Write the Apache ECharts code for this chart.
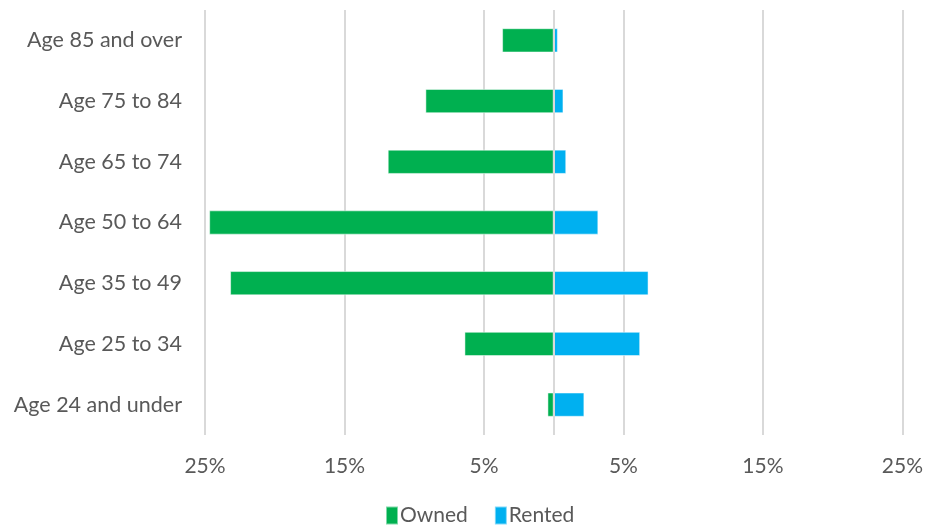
<!DOCTYPE html>
<html>
<head>
<meta charset="utf-8">
<script src="https://cdn.jsdelivr.net/npm/echarts@6/dist/echarts.min.js"></script>
<style>
  html, body { margin: 0; padding: 0; background: #fff; }
  #chart { width: 926px; height: 531px; }
</style>
</head>
<body>
<div id="chart"></div>
<script>
// Age groups, top row first
const ageGroups = [
  'Age 85 and over',
  'Age 75 to 84',
  'Age 65 to 74',
  'Age 50 to 64',
  'Age 35 to 49',
  'Age 25 to 34',
  'Age 24 and under'
];
// Share of households (%), owned drawn to the left of zero
const ownedShare = [3.7, 9.2, 11.9, 24.7, 23.2, 6.4, 0.45];
const rentedShare = [0.3, 0.7, 0.9, 3.2, 6.8, 6.2, 2.2];
// Labelled ticks on the value axis
const tickValues = [-25, -15, -5, 5, 15, 25];

const grey = '#d9d9d9';
const textColor = '#595959';
const font = 'Lato, "Open Sans", sans-serif';

// one colour per split line at -25, -20, ..., 25; only the labelled ticks are shown
const splitColors = [];
for (let v = -25; v <= 25; v += 5) {
  splitColors.push(tickValues.includes(v) ? grey : 'rgba(0,0,0,0)');
}

const chart = echarts.init(document.getElementById('chart'), null, { renderer: 'canvas' });
chart.setOption({
  animation: false,
  backgroundColor: '#ffffff',
  grid: { left: 205, right: 21, top: 10, bottom: 96, containLabel: false },
  legend: {
    bottom: 0,
    left: 380,
    itemWidth: 12,
    itemHeight: 18,
    itemGap: 26,
    icon: 'rect',
    textStyle: { color: textColor, fontSize: 21, fontFamily: font, padding: [0, 0, 0, -3] },
    data: ['Owned', 'Rented']
  },
  xAxis: {
    type: 'value',
    min: -25,
    max: 25,
    interval: 5,
    axisLine: { show: false },
    axisTick: { show: false },
    splitLine: { show: true, lineStyle: { color: splitColors, width: 2 } },
    axisLabel: {
      color: textColor,
      fontSize: 21,
      fontFamily: font,
      margin: 21,
      formatter: function (v) {
        return tickValues.includes(v) ? Math.abs(v) + '%' : '';
      }
    }
  },
  yAxis: {
    type: 'category',
    data: ageGroups,
    inverse: true,
    axisLine: { show: false },
    axisTick: { show: false },
    splitLine: { show: false },
    axisLabel: { color: textColor, fontSize: 21.5, fontFamily: font, margin: 23 }
  },
  series: [
    {
      name: 'Owned',
      type: 'bar',
      stack: 'total',
      barWidth: '40%',
      itemStyle: { color: '#00B050', borderColor: 'rgba(255,255,255,0.5)', borderWidth: 1 },
      data: ownedShare.map(v => -v)
    },
    {
      name: 'Rented',
      type: 'bar',
      stack: 'total',
      barWidth: '40%',
      itemStyle: { color: '#00B0F0', borderColor: 'rgba(255,255,255,0.5)', borderWidth: 1 },
      data: rentedShare,
      markLine: {
        silent: true,
        symbol: 'none',
        label: { show: false },
        lineStyle: { color: grey, width: 2, type: 'solid' },
        data: [{ xAxis: 0 }]
      }
    }
  ]
});
</script>
</body>
</html>
